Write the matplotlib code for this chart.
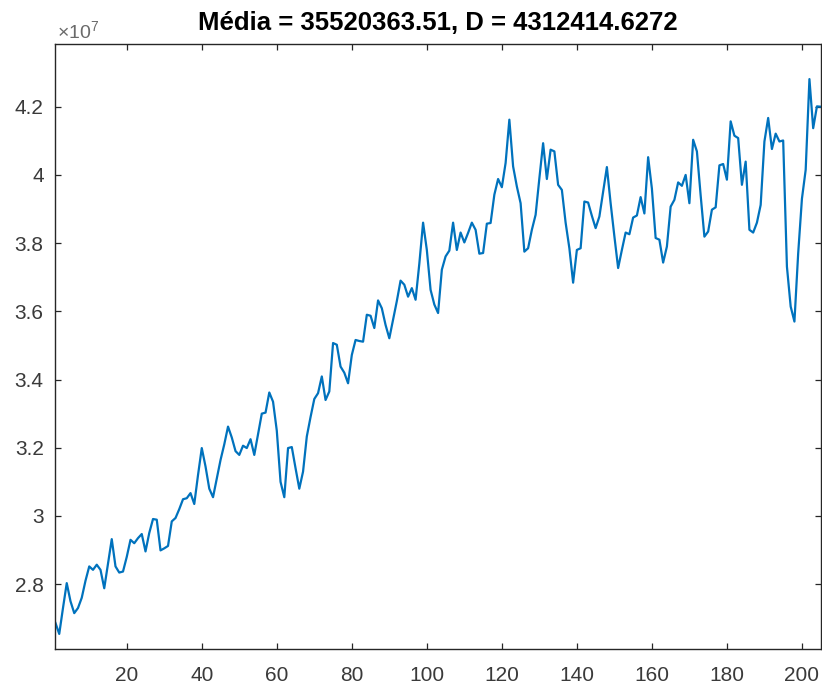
import matplotlib

matplotlib.use("Agg")
import matplotlib.pyplot as plt
from matplotlib.ticker import FuncFormatter, MultipleLocator
import numpy as np

plt.rcParams["font.family"] = ["Liberation Sans", "DejaVu Sans"]
plt.rcParams["mathtext.default"] = "regular"

# series values, in units of 1e7
valores = [
    2.686, 2.654, 2.730, 2.803, 2.750, 2.715, 2.730, 2.760, 2.810, 2.852,
    2.842, 2.857, 2.842, 2.788, 2.860, 2.932, 2.852, 2.834, 2.837, 2.880,
    2.930, 2.920, 2.935, 2.947, 2.896, 2.950, 2.991, 2.989, 2.899, 2.905,
    2.912, 2.984, 2.994, 3.020, 3.049, 3.052, 3.067, 3.035, 3.120, 3.199,
    3.145, 3.080, 3.055, 3.110, 3.164, 3.210, 3.262, 3.230, 3.190, 3.179,
    3.206, 3.199, 3.225, 3.179, 3.240, 3.300, 3.303, 3.362, 3.335, 3.250,
    3.100, 3.055, 3.199, 3.202, 3.140, 3.080, 3.130, 3.233, 3.290, 3.343,
    3.360, 3.409, 3.340, 3.365, 3.507, 3.502, 3.438, 3.420, 3.389, 3.472,
    3.516, 3.513, 3.511, 3.590, 3.587, 3.551, 3.632, 3.609, 3.560, 3.521,
    3.575, 3.630, 3.690, 3.678, 3.643, 3.668, 3.634, 3.740, 3.860, 3.780,
    3.663, 3.620, 3.595, 3.722, 3.761, 3.778, 3.860, 3.780, 3.831, 3.802,
    3.830, 3.860, 3.839, 3.769, 3.771, 3.857, 3.859, 3.942, 3.988, 3.964,
    4.035, 4.162, 4.025, 3.966, 3.917, 3.775, 3.785, 3.839, 3.883, 3.990,
    4.093, 3.988, 4.074, 4.069, 3.971, 3.956, 3.860, 3.785, 3.684, 3.780,
    3.785, 3.922, 3.919, 3.880, 3.844, 3.878, 3.950, 4.023, 3.917, 3.820,
    3.727, 3.780, 3.831, 3.826, 3.875, 3.881, 3.935, 3.887, 4.052, 3.960,
    3.815, 3.810, 3.743, 3.790, 3.907, 3.927, 3.978, 3.968, 4.000, 3.917,
    4.103, 4.069, 3.940, 3.819, 3.834, 3.898, 3.905, 4.028, 4.032, 3.986,
    4.157, 4.115, 4.108, 3.971, 4.039, 3.839, 3.831, 3.860, 3.912, 4.098,
    4.167, 4.076, 4.121, 4.098, 4.101, 3.731, 3.614, 3.570, 3.770, 3.930,
    4.015, 4.281, 4.137, 4.201, 4.200,
]
titulo = "Média = 35520363.51, D = 4312414.6272"

y = np.array(valores) * 1e7
x = np.arange(1, len(y) + 1)

fig = plt.figure(figsize=(8.22, 6.90), dpi=100)
ax = fig.add_axes([0.0675, 0.0590, 0.9309, 0.8768])
ax.plot(x, y, color="#0072BD", lw=1.6, solid_joinstyle="round")

ax.set_xlim(1, len(y))
ax.set_ylim(2.609e7, 4.383e7)
ax.xaxis.set_major_locator(MultipleLocator(20))
ax.yaxis.set_major_locator(MultipleLocator(0.2e7))
ax.yaxis.set_major_formatter(FuncFormatter(lambda v, p: "%g" % round(v / 1e7, 2)))

ax.tick_params(
    direction="in", length=4.3, width=0.9, color="#262626",
    labelsize=15, labelcolor="#3a3a3a", top=True, right=True,
)
ax.tick_params(axis="y", pad=8.5)
ax.tick_params(axis="x", pad=12)
for s in ax.spines.values():
    s.set_color("#262626")
    s.set_linewidth(1.0)

ax.set_title(titulo, fontsize=18.5, fontweight="bold", pad=10.5, color="black")
fig.text(57 / 822, 1 - 38 / 690, "×10$^{7}$", fontsize=14, color="#6a6a6a",
         ha="left", va="baseline")

fig.savefig("out.png", dpi=100)
